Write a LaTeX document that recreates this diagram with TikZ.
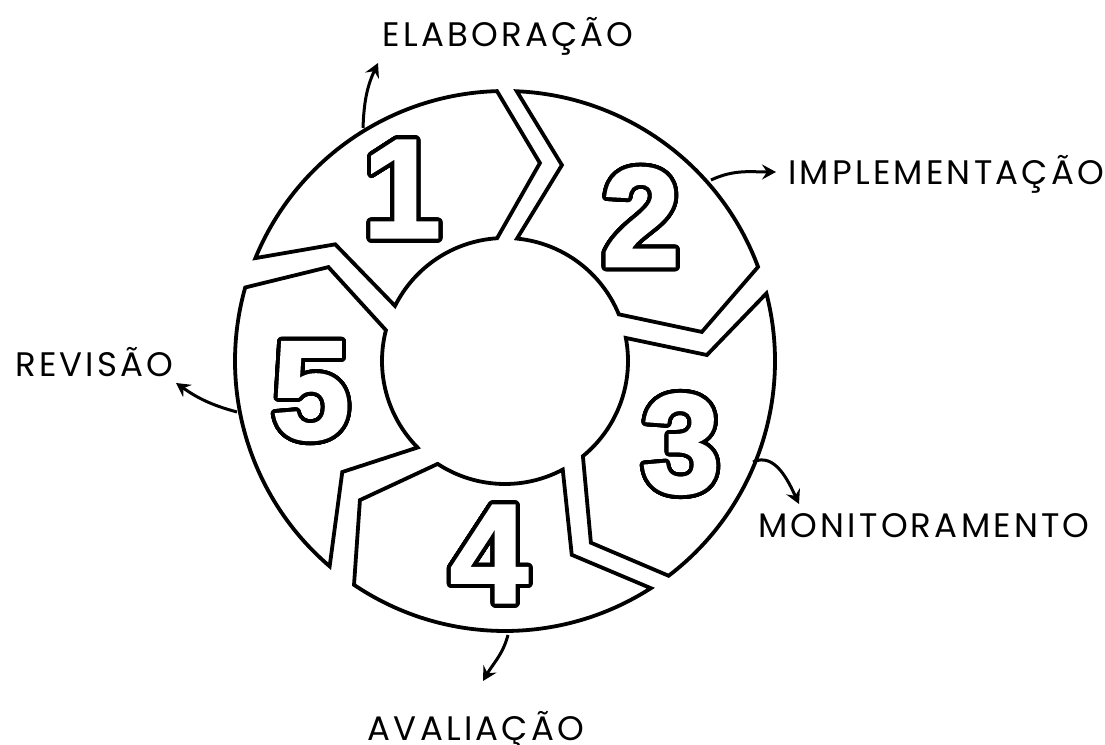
\documentclass[tikz,border=0pt]{standalone}
\usepackage{fontspec}
\setmainfont{Poppins}[LetterSpace=9.5]
\newfontfamily\digfont[BoldFeatures={FakeBold=2}]{Liberation Sans}
\usepackage[copies]{contour}
\contourlength{4pt}
\contournumber{48}
\usetikzlibrary{calc,arrows.meta}
\tikzset{
  ring/.style={line width=3.8pt, line join=miter, fill=white, draw=black},
  digit/.style={inner sep=0pt, text=white, font=\digfont\bfseries\fontsize{140}{140}\selectfont},
  lbl/.style={inner sep=0pt, font=\fontsize{34}{34}\selectfont},
  arr/.style={line width=3pt, -{Stealth[length=14pt,width=15pt,inset=5pt]}}
}
\newcommand\segpath[8]{%
  \draw[ring] ($(C)+(#1:\Ro)$) arc[start angle=#1,end angle=#2,radius=\Ro]
    -- ($(C)+(#3:#4)$) -- ($(C)+(#5:\Ri)$)
    arc[start angle=#5,end angle=#6,radius=\Ri]
    -- ($(C)+(#7:#8)$) -- cycle;}
\begin{document}
\begin{tikzpicture}[x=1pt,y=1pt]
\useasboundingbox (0,0) rectangle (1105,744);
\coordinate (C) at (505,383);
\def\Ro{270pt}
\def\Ri{123pt}
% segments: trailing outer, leading outer, point angle, point r, leading inner, trailing inner, notch angle, notch r
\segpath{157.6}{91.7}{80}{201pt}{93.7}{153.4}{145.5}{206pt}
\segpath{87.5}{20.4}{8.4}{199pt}{22.3}{84.4}{73.8}{204pt}
\segpath{14.5}{-52.7}{-64.7}{201pt}{-50.7}{10.8}{1.7}{202pt}
\segpath{-57.3}{-124}{-136.2}{201pt}{-123.2}{-62}{-71}{205pt}
\segpath{-130.5}{-195.8}{-208}{200pt}{-194.5}{-135.3}{-145.7}{197pt}
% digits
\node[digit] (d1) at (402,553) {\contour{black}{1}};
\node[digit] (d2) at (641,525) {\contour{black}{2}};
\node[digit] (d3) at (681,298) {\contour{black}{3}};
\node[digit] (d4) at (489,188) {\contour{black}{4}};
\node[digit] (d5) at (311,351) {\contour{black}{5}};
% labels
\node[lbl, anchor=base] (l1) at (508,697) {ELABORAÇÃO};
\node[lbl, anchor=base west] (l2) at (788,559) {IMPLEMENTAÇÃO};
\node[lbl, anchor=base west] (l3) at (758,206) {MONITORAMENTO};
\node[lbl, anchor=base] (l4) at (476,4) {AVALIAÇÃO};
\node[lbl, anchor=base west] (l5) at (15,367) {REVISÃO};
% arrows
\coordinate (s1) at (363,616); \coordinate (e1) at (378,681);
\coordinate (s2) at (711,564); \coordinate (e2) at (776,572);
\coordinate (s3) at (753,282); \coordinate (e3) at (799,240);
\coordinate (s4) at (508,109); \coordinate (e4) at (483,63);
\coordinate (s5) at (237,332); \coordinate (e5) at (176,361);
\draw[arr] (s1) to[out=88,in=-115] (e1);
\draw[arr] (s2) to[out=25,in=180] (e2);
\draw[arr] (s3) to[out=25,in=115] (e3);
\draw[arr] (s4) to[out=-105,in=60] (e4);
\draw[arr] (s5) to[out=165,in=-35] (e5);
\end{tikzpicture}
\end{document}
